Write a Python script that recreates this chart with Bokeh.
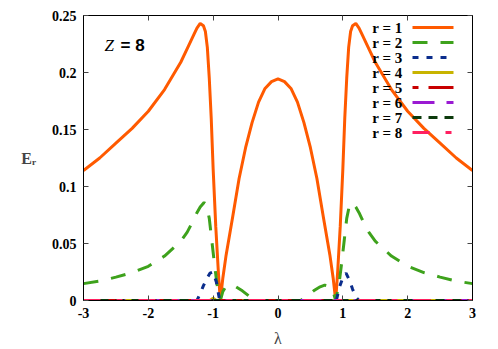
from bokeh.plotting import figure
from bokeh.models import Range1d, FixedTicker, LinearAxis, Label, Arrow, CustomJSTickFormatter
from bokeh.embed import file_html
from bokeh.resources import INLINE

# ---- data ----
x1 = [-3.0, -2.75, -2.5, -2.25, -2.0, -1.75, -1.5, -1.4, -1.3, -1.25,
      -1.2, -1.15, -1.12, -1.09, -1.06, -1.03, -1.0, -0.96, -0.92, -0.89,
      -0.85, -0.8, -0.7, -0.6, -0.5, -0.4, -0.3, -0.2, -0.1, 0.0,
      0.1, 0.2, 0.3, 0.4, 0.5, 0.6, 0.7, 0.8, 0.85,
      0.89, 0.92, 0.96, 1.0, 1.03, 1.06, 1.09, 1.12, 1.15, 1.2,
      1.25, 1.3, 1.4, 1.5, 1.75, 2.0, 2.25, 2.5, 2.75, 3.0]
y1 = [0.114, 0.125, 0.138, 0.151, 0.166, 0.185, 0.209, 0.221, 0.233, 0.239,
      0.243, 0.241, 0.236, 0.222, 0.195, 0.160, 0.115, 0.065, 0.025, 0.0,
      0.020, 0.040, 0.073, 0.107, 0.134, 0.156, 0.174, 0.186, 0.192, 0.1945,
      0.192, 0.186, 0.174, 0.156, 0.134, 0.107, 0.073, 0.040, 0.020,
      0.0, 0.025, 0.065, 0.115, 0.160, 0.195, 0.222, 0.236, 0.241, 0.243,
      0.239, 0.233, 0.221, 0.209, 0.185, 0.166, 0.151, 0.138, 0.125, 0.114]

x2 = [-3.0, -2.75, -2.5, -2.25, -2.0, -1.75, -1.5, -1.4, -1.3, -1.25,
      -1.2, -1.14, -1.1, -1.06, -1.02, -0.98, -0.94, -0.89, -0.85, -0.8,
      -0.72, -0.65, -0.55, -0.45, -0.35, 0.0,
      0.35, 0.45, 0.55, 0.65, 0.72,
      0.8, 0.85, 0.89, 0.94, 0.98, 1.02, 1.06, 1.1, 1.14, 1.2,
      1.25, 1.3, 1.4, 1.5, 1.75, 2.0, 2.25, 2.5, 2.75, 3.0]
y2 = [0.0148, 0.017, 0.0205, 0.0245, 0.030, 0.039, 0.052, 0.060, 0.071, 0.077,
      0.082, 0.086, 0.083, 0.072, 0.052, 0.032, 0.014, 0.0, 0.008, 0.0125,
      0.0135, 0.012, 0.0085, 0.004, 0.0, 0.0,
      0.0, 0.004, 0.0085, 0.012, 0.0135,
      0.0125, 0.008, 0.0, 0.014, 0.032, 0.052, 0.072, 0.083, 0.086, 0.082,
      0.077, 0.071, 0.060, 0.052, 0.039, 0.030, 0.0245, 0.0205, 0.017, 0.0148]

x3 = [-3.0, -1.25, -1.2, -1.15, -1.1, -1.05, -1.0, -0.95, -0.9,
      0.9, 0.95, 1.0, 1.05, 1.1, 1.15, 1.2, 1.25, 3.0]
y3 = [0.0, 0.0, 0.006, 0.013, 0.019, 0.024, 0.025, 0.016, 0.0,
      0.0, 0.012, 0.020, 0.024, 0.018, 0.010, 0.003, 0.0, 0.0]

x4 = [-3.0, -1.05, -1.0, -0.95, 3.0]
y4 = [0.0, 0.0, 0.002, 0.0, 0.0]

x5 = [-3.0, 3.0]
y5 = [0.0, 0.0]
x6 = [-3.0, 3.0]
y6 = [0.0, 0.0]
x7 = [-3.0, 3.0]
y7 = [0.0, 0.0]
x8 = [-3.0, 3.0]
y8 = [0.0, 0.0]

labels = ["r = 1", "r = 2", "r = 3", "r = 4", "r = 5", "r = 6", "r = 7", "r = 8"]
x_ticks = [-3, -2, -1, 0, 1, 2, 3]
x_tick_labels = ["-3", "-2", "-1", "0", "1", "2", "3"]
y_ticks = [0, 0.05, 0.1, 0.15, 0.2, 0.25]
y_tick_labels = ["0", "0.05", "0.1", "0.15", "0.2", "0.25"]

# ---- styles ----
colors = ["#ff5a00", "#3ea21c", "#0b2d8c", "#c8b400", "#c80000", "#9a1ad2", "#0c3a0c", "#ff2060"]
dashes = ["solid", "15 13", "6 8", "solid", "6 10 25 10", "22 12 8 12", "9 7", "17 16 6 16"]
series = [(x1, y1), (x2, y2), (x3, y3), (x4, y4), (x5, y5), (x6, y6), (x7, y7), (x8, y8)]

SERIF = "Liberation Serif"

p = figure(width=498, height=349, output_backend="svg", toolbar_location=None,
           x_range=Range1d(-3, 3), y_range=Range1d(0, 0.25),
           min_border_left=83, min_border_right=26, min_border_top=15, min_border_bottom=49,
           x_axis_location=None, y_axis_location=None)
p.background_fill_color = "white"
p.border_fill_color = "white"
p.outline_line_color = "black"
p.outline_line_width = 1
p.grid.visible = False

def style_axis(ax, show_labels):
    ax.major_tick_in = 5
    ax.major_tick_out = 0
    ax.minor_tick_line_color = None
    ax.major_tick_line_color = "#444444"
    ax.axis_line_color = "black"
    ax.major_label_text_font = SERIF
    ax.major_label_text_font_style = "bold"
    ax.major_label_text_font_size = "14px"
    ax.major_label_text_color = "black"
    ax.major_label_standoff = 7
    if not show_labels:
        ax.formatter = CustomJSTickFormatter(code="return ''")
        ax.major_label_standoff = 0

xb = LinearAxis(ticker=FixedTicker(ticks=x_ticks),
                major_label_overrides={t: s for t, s in zip(x_ticks, x_tick_labels)})
style_axis(xb, True)
xb.axis_label = "λ"
xb.axis_label_text_font = SERIF
xb.axis_label_text_font_style = "normal"
xb.axis_label_text_font_size = "16px"
xb.axis_label_standoff = 9
p.add_layout(xb, "below")

yl = LinearAxis(ticker=FixedTicker(ticks=y_ticks),
                major_label_overrides={t: s for t, s in zip(y_ticks, y_tick_labels)})
style_axis(yl, True)
yl.axis_label = "Eᵣ"
yl.axis_label_orientation = "horizontal"
yl.axis_label_text_font = SERIF
yl.axis_label_text_font_style = "bold"
yl.axis_label_text_font_size = "16px"
yl.axis_label_standoff = 13
p.add_layout(yl, "left")

xt = LinearAxis(ticker=FixedTicker(ticks=x_ticks))
style_axis(xt, False)
p.add_layout(xt, "above")
yr = LinearAxis(ticker=FixedTicker(ticks=y_ticks))
style_axis(yr, False)
p.add_layout(yr, "right")

for (xs, ys), c, d in zip(series, colors, dashes):
    p.line(xs, ys, line_color=c, line_width=3, line_dash=d)

# ---- custom gnuplot-style key (screen units, frame-relative) ----
for i, (lab, c, d) in enumerate(zip(labels, colors, dashes)):
    yy = 273 - 15 * i
    p.add_layout(Label(x=319, y=yy, x_units="screen", y_units="screen", text=lab,
                       text_align="right", text_baseline="middle",
                       text_font=SERIF, text_font_style="bold", text_font_size="15px",
                       text_color="black"))
    p.add_layout(Arrow(end=None, x_start=329, y_start=yy, x_end=370, y_end=yy,
                       start_units="screen", end_units="screen",
                       line_color=c, line_width=3, line_dash=d))

# Z = 8 annotation
p.add_layout(Label(x=21, y=255, x_units="screen", y_units="screen", text="Z",
                   text_font=SERIF, text_font_style="italic", text_font_size="17px",
                   text_color="black", text_baseline="alphabetic"))
p.add_layout(Label(x=37, y=255, x_units="screen", y_units="screen", text="= 8",
                   text_font="Liberation Sans", text_font_style="bold", text_font_size="17px",
                   text_color="black", text_baseline="alphabetic"))

open("out.html", "w").write(file_html(p, INLINE))
